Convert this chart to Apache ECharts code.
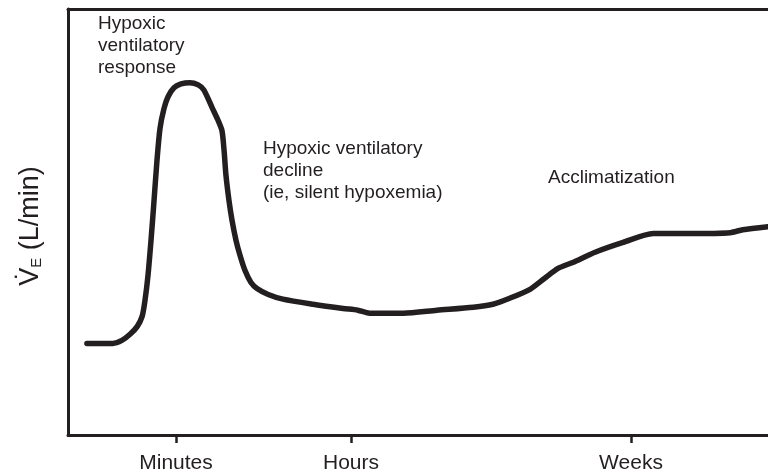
<!DOCTYPE html>
<html>
<head>
<meta charset="utf-8">
<script src="https://cdn.jsdelivr.net/npm/echarts@6/dist/echarts.min.js"></script>
<style>
  html, body { margin: 0; padding: 0; background: #fff; }
  #chart { width: 768px; height: 474px; }
</style>
</head>
<body>
<div id="chart"></div>
<script>
// time axis in arbitrary units (0-100), ventilation in arbitrary units (0-100)
const timeX = [2.7, 6.4, 7.7, 8.9, 9.9, 10.6, 11.0, 11.43, 11.86, 12.29, 12.71, 13.14, 13.71, 14.29, 15.14, 16.14,
  17.4, 18.6, 19.4, 20.6, 21.4, 22.0, 22.3, 22.57, 23.0, 23.43, 24.0, 24.57, 25.29, 26.14, 27.0, 28.6, 30.7,
  35.0, 39.3, 41.4, 43.1, 47.9, 52.7, 57.9, 60.7, 63.1, 66.0, 68.1, 70.0, 72.1, 75.3, 79.3, 83.6,
  88.9, 94.6, 96.4, 100]
const ventY = [21.5, 21.5, 22.2, 23.7, 25.5, 27.9, 31.6, 37.5, 45.7, 55.0, 64.4, 71.9, 76.6, 79.4, 81.5, 82.4,
  82.7, 82.2, 81.0, 76.8, 74.0, 71.4, 66.7, 60.9, 55.0, 50.4, 45.7, 42.2, 38.6, 35.8, 34.4, 33.0, 31.9,
  30.7, 29.7, 29.3, 28.6, 28.6, 29.3, 30.0, 30.7, 32.1, 34.2, 36.8, 39.1, 40.5, 42.9, 45.2, 47.3,
  47.3, 47.5, 48.2, 48.9]
const tickValues = [15.43, 40.43, 80.43]
const tickLabels = ['Minutes', 'Hours', 'Weeks']
const notes = [
  'Hypoxic\nventilatory\nresponse',
  'Hypoxic ventilatory\ndecline\n(ie, silent hypoxemia)',
  'Acclimatization'
]

const ink = '#231f20'
const chart = echarts.init(document.getElementById('chart'))

const noteStyle = {
  fill: ink,
  fontFamily: 'Liberation Sans, Arial, sans-serif',
  fontSize: 19,
  lineHeight: 22
}

chart.setOption({
  animation: false,
  grid: { left: 68, right: 0, top: 9, bottom: 39 },
  xAxis: [
    {
      type: 'value',
      min: 0,
      max: 100,
      axisLine: { lineStyle: { color: ink, width: 3 } },
      splitLine: { show: false },
      axisTick: {
        customValues: tickValues,
        length: 8,
        lineStyle: { color: ink, width: 2.5 }
      },
      axisLabel: {
        customValues: tickValues,
        margin: 18,
        color: ink,
        fontFamily: 'Liberation Sans, Arial, sans-serif',
        fontSize: 21,
        formatter: (v) => tickLabels[tickValues.indexOf(v)] || ''
      }
    },
    {
      type: 'value',
      position: 'top',
      min: 0,
      max: 100,
      axisLine: { show: true, lineStyle: { color: ink, width: 3 } },
      axisTick: { show: false },
      axisLabel: { show: false },
      splitLine: { show: false }
    }
  ],
  yAxis: {
    type: 'value',
    min: 0,
    max: 100,
    axisLine: { show: true, lineStyle: { color: ink, width: 3 } },
    axisTick: { show: false },
    axisLabel: { show: false },
    splitLine: { show: false },
    name: '{v|V\u0307}{s|E}{v| (L/min)}',
    nameLocation: 'middle',
    nameGap: 24,
    nameRotate: 90,
    nameTextStyle: {
      padding: [0, 8, 0, 0],
      rich: {
        v: { fontFamily: 'Liberation Sans, Arial, sans-serif', fontSize: 27, color: ink, verticalAlign: 'bottom', lineHeight: 30 },
        s: { fontFamily: 'Liberation Sans, Arial, sans-serif', fontSize: 15, color: ink, verticalAlign: 'bottom', lineHeight: 26 }
      }
    }
  },
  series: [
    {
      type: 'line',
      data: timeX.map((x, i) => [x, ventY[i]]),
      smooth: 0.25,
      showSymbol: false,
      lineStyle: { color: ink, width: 5.5, cap: 'round', join: 'round' }
    }
  ],
  graphic: [
    { type: 'text', left: 98, top: 13, style: Object.assign({ text: notes[0] }, noteStyle) },
    { type: 'text', left: 263, top: 138, style: Object.assign({ text: notes[1] }, noteStyle) },
    { type: 'text', left: 548, top: 167, style: Object.assign({ text: notes[2] }, noteStyle) }
  ]
})
</script>
</body>
</html>
